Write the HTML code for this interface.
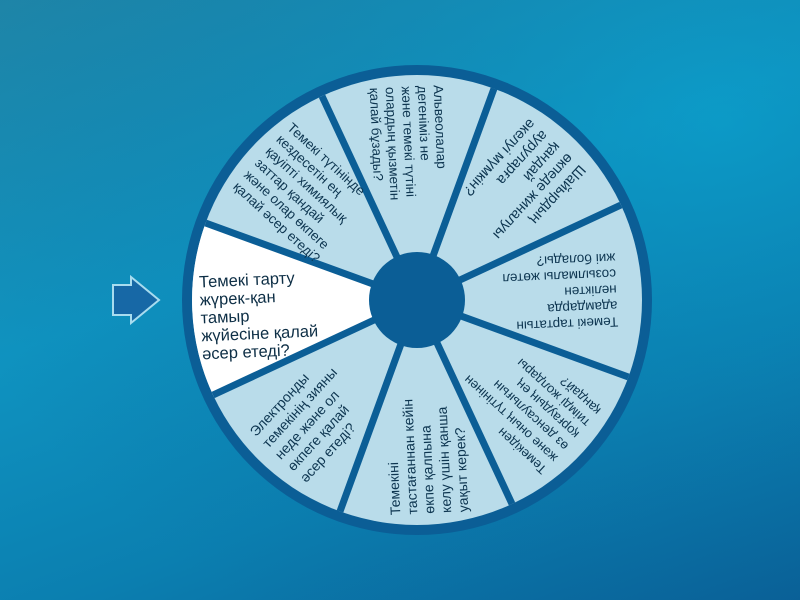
<!DOCTYPE html>
<html><head><meta charset="utf-8"><style>
html,body{margin:0;padding:0;width:800px;height:600px;overflow:hidden}
body{background:linear-gradient(160deg,#1f86a8 0%,#0f93c0 40%,#0b7fb0 70%,#0a5f96 100%)}
svg{position:absolute;left:0;top:0}
text{font-family:"Liberation Sans","DejaVu Sans",sans-serif;fill:#0d3550}
</style></head><body>
<svg width="800" height="600" viewBox="0 0 800 600">
<defs>
<radialGradient id="bg" cx="0.9" cy="0.2" r="1">
<stop offset="0" stop-color="#0aa3cf" stop-opacity="0.5"/><stop offset="1" stop-color="#0a5e95" stop-opacity="0"/>
</radialGradient>
</defs>
<rect width="800" height="600" fill="url(#bg)"/>
<polygon points="113,285 131,285 131,277 159,300 131,323 131,315 113,315" fill="#1768a6" stroke="#a8dcef" stroke-width="2"/>
<g transform="translate(417,300)">
<circle r="235" fill="#0b5e96"/>
<circle r="225" fill="#b9dcea"/>
<path d="M0 0 L-211.4 -77 A225 225 0 0 0 -203.9 95 Z" fill="#ffffff"/>
<g stroke="#0b5e96" stroke-width="7">
<line x1="0" y1="0" x2="-211.4" y2="-77"/>
<line x1="0" y1="0" x2="-203.9" y2="95"/>
<line x1="0" y1="0" x2="-77" y2="211.4"/>
<line x1="0" y1="0" x2="95" y2="203.9"/>
<line x1="0" y1="0" x2="211.4" y2="77"/>
<line x1="0" y1="0" x2="203.9" y2="-95"/>
<line x1="0" y1="0" x2="77" y2="-211.4"/>
<line x1="0" y1="0" x2="-95" y2="-203.9"/>
</g>
<circle r="48" fill="#0b5e96"/>
<g transform="rotate(-2.5)" font-size="16.5">
<text x="-217" y="-22" style="fill:#0d2e45">Темекі тарту</text>
<text x="-217" y="-4" style="fill:#0d2e45">жүрек-қан</text>
<text x="-217" y="14" style="fill:#0d2e45">тамыр</text>
<text x="-217" y="32" style="fill:#0d2e45">жүйесіне қалай</text>
<text x="-217" y="50" style="fill:#0d2e45">әсер етеді?</text>
</g>
<g transform="rotate(-47.5)" font-size="14">
<text x="-210" y="-26">Электронды</text>
<text x="-210" y="-9">темекінің зияны</text>
<text x="-210" y="8">неде және ол</text>
<text x="-210" y="25">өкпеге қалай</text>
<text x="-210" y="42">әсер етеді?</text>
</g>
<g transform="rotate(-92.5)" font-size="14">
<text x="-214" y="-26">Темекіні</text>
<text x="-214" y="-9">тастағаннан кейін</text>
<text x="-214" y="8">өкпе қалпына</text>
<text x="-214" y="25">келу үшін қанша</text>
<text x="-214" y="42">уақыт керек?</text>
</g>
<g transform="rotate(-137.5)" font-size="13">
<text x="-210" y="-36">Темекіден</text>
<text x="-210" y="-20">және оның түтінінен</text>
<text x="-210" y="-4">өз денсаулығын</text>
<text x="-210" y="12">қорғаудың ең</text>
<text x="-210" y="28">тиімді жолдары</text>
<text x="-210" y="44">қандай?</text>
</g>
<g transform="rotate(-182.5)" font-size="13.5">
<text x="-200" y="-26">Темекі тартатын</text>
<text x="-200" y="-10">адамдарда</text>
<text x="-200" y="6">неліктен</text>
<text x="-200" y="22">созылмалы жөтел</text>
<text x="-200" y="38">жиі болады?</text>
</g>
<g transform="rotate(-227.5)" font-size="14.5">
<text x="-210" y="-28">Шайырдың</text>
<text x="-210" y="-11">өкпеде жиналуы</text>
<text x="-210" y="6">қандай</text>
<text x="-210" y="23">ауруларға</text>
<text x="-210" y="40">әкелуі мүмкін?</text>
</g>
<g transform="rotate(-272.5)" font-size="13.5">
<text x="-214" y="-26">Альвеолалар</text>
<text x="-214" y="-10">дегеніміз не</text>
<text x="-214" y="6">және темекі түтіні</text>
<text x="-214" y="22">олардың қызметін</text>
<text x="-214" y="38">қалай бұзады?</text>
</g>
<g transform="rotate(-317.5)" font-size="13.5">
<text x="-212" y="-38">Темекі түтінінде</text>
<text x="-212" y="-22">кездесетін ең</text>
<text x="-212" y="-6">қауіпті химиялық</text>
<text x="-212" y="10">заттар қандай</text>
<text x="-212" y="26">және олар өкпеге</text>
<text x="-212" y="42">қалай әсер етеді?</text>
</g>
</g>
</svg>
</body></html>
